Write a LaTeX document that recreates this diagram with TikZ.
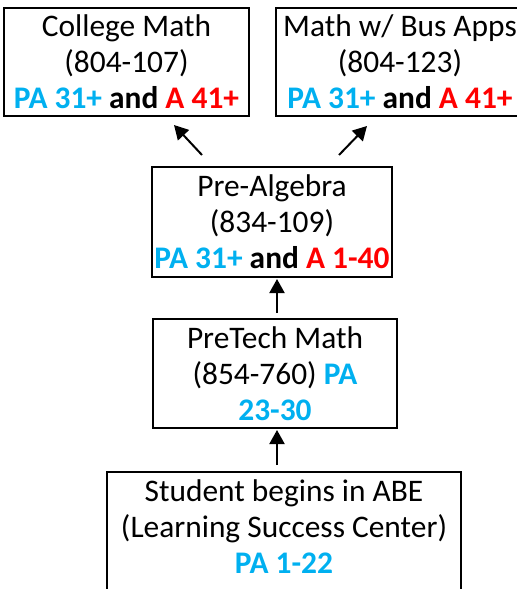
\documentclass[tikz,border=0pt]{standalone}
\usepackage{fontspec}
\setmainfont{Carlito}
\usetikzlibrary{arrows.meta}
\definecolor{pablue}{HTML}{00B0F0}
\definecolor{ared}{HTML}{FF0000}
\newcommand{\pa}[1]{\textcolor{pablue}{\textbf{#1}}}
\newcommand{\ar}[1]{\textcolor{ared}{\textbf{#1}}}
\tikzset{
  box/.style={draw=black, line width=0.9pt, align=center, inner sep=0pt,
    font=\fontsize{15.7}{18}\selectfont},
  arr/.style={line width=1pt, -{Triangle[width=7.5pt,length=7pt]}}
}
\begin{document}
\begin{tikzpicture}[x=0.5pt,y=-0.5pt]
\useasboundingbox (0,0) rectangle (517,589);
\clip (0,0) rectangle (517,589);
\fill[white] (0,0) rectangle (517,589);
\node[box, minimum width=122.5pt, minimum height=54pt] (cm) at (126.5,62)
  {College Math\\(804-107)\\\pa{PA 31+} \textbf{and} \ar{A 41+}};
\node[box, minimum width=124pt, minimum height=54pt] (bus) at (400,62)
  {Math w/ Bus Apps\\(804-123)\\\pa{PA 31+} \textbf{and} \ar{A 41+}};
\node[box, minimum width=120pt, minimum height=55pt] (pre) at (272,222)
  {Pre-Algebra\\(834-109)\\\pa{PA 31+} \textbf{and} \ar{A 1-40}};
\node[box, minimum width=122pt, minimum height=54.5pt] (tech) at (275,373.5)
  {PreTech Math\\(854-760) \pa{PA}\\\pa{23-30}};
\node[box, minimum width=177pt, minimum height=69pt] (abe) at (284,541) {};
\node[box, draw=none] (abet) at (284,527)
  {Student begins in ABE\\(Learning Success Center)\\\pa{PA 1-22}};
\coordinate (s1) at (202,155);
\coordinate (e1) at (174,125);
\coordinate (s2) at (339,155);
\coordinate (e2) at (367,126);
\coordinate (s3) at (277,313);
\coordinate (e3) at (277,279);
\coordinate (s4) at (277,465);
\coordinate (e4) at (277,430);
\draw[arr] (s1) -- (e1);
\draw[arr] (s2) -- (e2);
\draw[arr] (s3) -- (e3);
\draw[arr] (s4) -- (e4);
\end{tikzpicture}
\end{document}
